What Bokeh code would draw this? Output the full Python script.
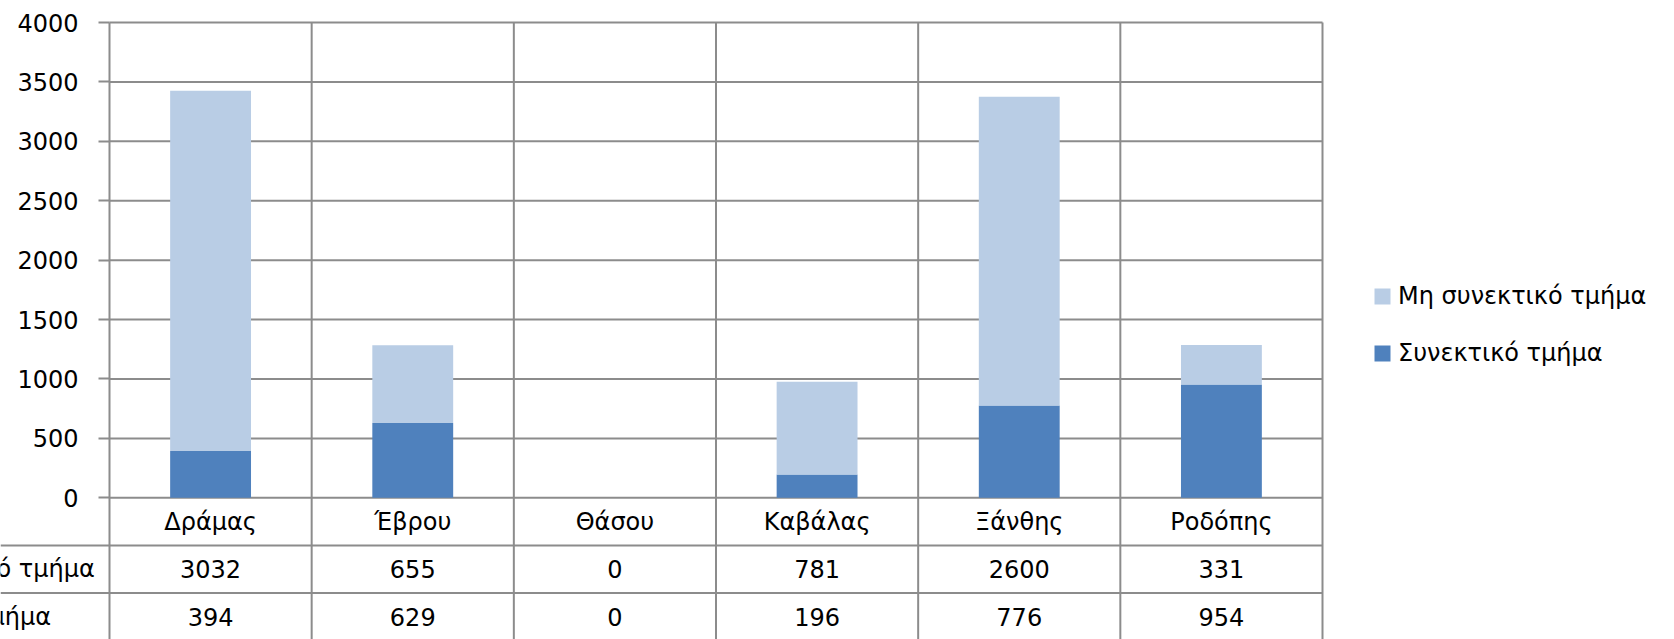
from bokeh.plotting import figure
from bokeh.models import (ColumnDataSource, FixedTicker, LinearAxis, Range1d,
                          Legend, LegendItem)
from bokeh.embed import file_html
from bokeh.resources import INLINE
from bokeh.core.properties import value

# ---------------- data ----------------
categories = ["Δράμας", "Έβρου", "Θάσου", "Καβάλας", "Ξάνθης", "Ροδόπης"]
series_names = ["Μη συνεκτικό τμήμα", "Συνεκτικό τμήμα"]
non_cohesive = [3032, 655, 0, 781, 2600, 331]   # Μη συνεκτικό τμήμα
cohesive = [394, 629, 0, 196, 776, 954]         # Συνεκτικό τμήμα
y_ticks = [0, 500, 1000, 1500, 2000, 2500, 3000, 3500, 4000]

# ---------------- style ----------------
LIGHT = "#B9CDE5"
DARK = "#4F81BD"
GRAY = "#8C8C8C"
FONT = "DejaVu Sans"
FS = "24px"

W, H = 1674, 639
AXIS_X = 109          # canvas x of value axis
PXX = (1322 - 109) / 6  # px per category
PXY = (497.3 - 22) / 4000  # px per value unit
ZERO = 497.3          # canvas y of value 0
ROW = 47.6 / PXY      # table row height in value units

x_start = -AXIS_X / PXX
x_end = (W - AXIS_X) / PXX
y_end = ZERO / PXY
y_start = -(H - ZERO) / PXY
top = max(y_ticks)
n = len(categories)

p = figure(width=W, height=H, output_backend="svg", toolbar_location=None,
           x_range=Range1d(x_start, x_end), y_range=Range1d(y_start, y_end),
           x_axis_location=None, y_axis_location=None,
           min_border_left=0, min_border_right=0,
           min_border_top=0, min_border_bottom=0,
           outline_line_color=None)
p.grid.visible = False
p.background_fill_color = "white"

# value axis, drawn at x = 0 inside the frame
yaxis = LinearAxis(ticker=FixedTicker(ticks=y_ticks), fixed_location=0,
                   bounds=(y_start, top))
yaxis.axis_line_color = GRAY
yaxis.axis_line_width = 2
yaxis.major_tick_out = 11
yaxis.major_tick_in = 0
yaxis.major_tick_line_color = GRAY
yaxis.major_tick_line_width = 2
yaxis.minor_tick_line_color = None
yaxis.major_label_standoff = 20
yaxis.major_label_text_font = FONT
yaxis.major_label_text_font_size = FS
yaxis.major_label_text_color = "#000000"
p.add_layout(yaxis, "left")

# horizontal grid lines
gy = [t for t in y_ticks if t > 0]
p.segment(x0=[0] * len(gy), y0=gy, x1=[n] * len(gy), y1=gy,
          line_color=GRAY, line_width=2)
# zero line and table row lines (row lines extend to the left edge)
p.segment(x0=[0], y0=[0], x1=[n], y1=[0], line_color=GRAY, line_width=2)
ry = [-ROW, -2 * ROW]
p.segment(x0=[x_start] * len(ry), y0=ry, x1=[n] * len(ry), y1=ry,
          line_color=GRAY, line_width=2)
# vertical category boundaries
vx = list(range(1, n + 1))
p.segment(x0=vx, y0=[y_start] * len(vx), x1=vx, y1=[top] * len(vx),
          line_color=GRAY, line_width=2)

# stacked bars
src = ColumnDataSource(dict(x=[i + 0.5 for i in range(n)], cat=categories,
                            coh=cohesive, non=non_cohesive,
                            coh_s=[str(v) for v in cohesive],
                            non_s=[str(v) for v in non_cohesive]))
r_coh, r_non = p.vbar_stack(["coh", "non"], x="x", width=0.4, source=src,
                            fill_color=[DARK, LIGHT], line_color=None)

# data table
txt = dict(text_baseline="middle", text_font=value(FONT), text_font_size=FS,
           text_color="#000000")
p.text(x="x", y=-0.5 * ROW, text="cat", source=src, text_align="center", **txt)
p.text(x="x", y=-1.5 * ROW, text="non_s", source=src, text_align="center", **txt)
p.text(x="x", y=-2.5 * ROW, text="coh_s", source=src, text_align="center", **txt)
hdr = ColumnDataSource(dict(x=[-263 / PXX] * len(series_names),
                            y=[-(1.5 + k) * ROW for k in range(len(series_names))],
                            name=series_names))
p.text(x="x", y="y", text="name", source=hdr, text_align="left", **txt)

legend = Legend(items=[LegendItem(label=series_names[0], renderers=[r_non]),
                       LegendItem(label=series_names[1], renderers=[r_coh])],
                location=(1372, 272), orientation="vertical",
                glyph_width=20, glyph_height=20, label_standoff=6,
                spacing=29, padding=0, margin=0,
                border_line_color=None, background_fill_alpha=0,
                label_text_font=FONT, label_text_font_size=FS,
                label_text_color="#000000")
p.add_layout(legend)

open("out.html", "w").write(file_html(p, INLINE))
